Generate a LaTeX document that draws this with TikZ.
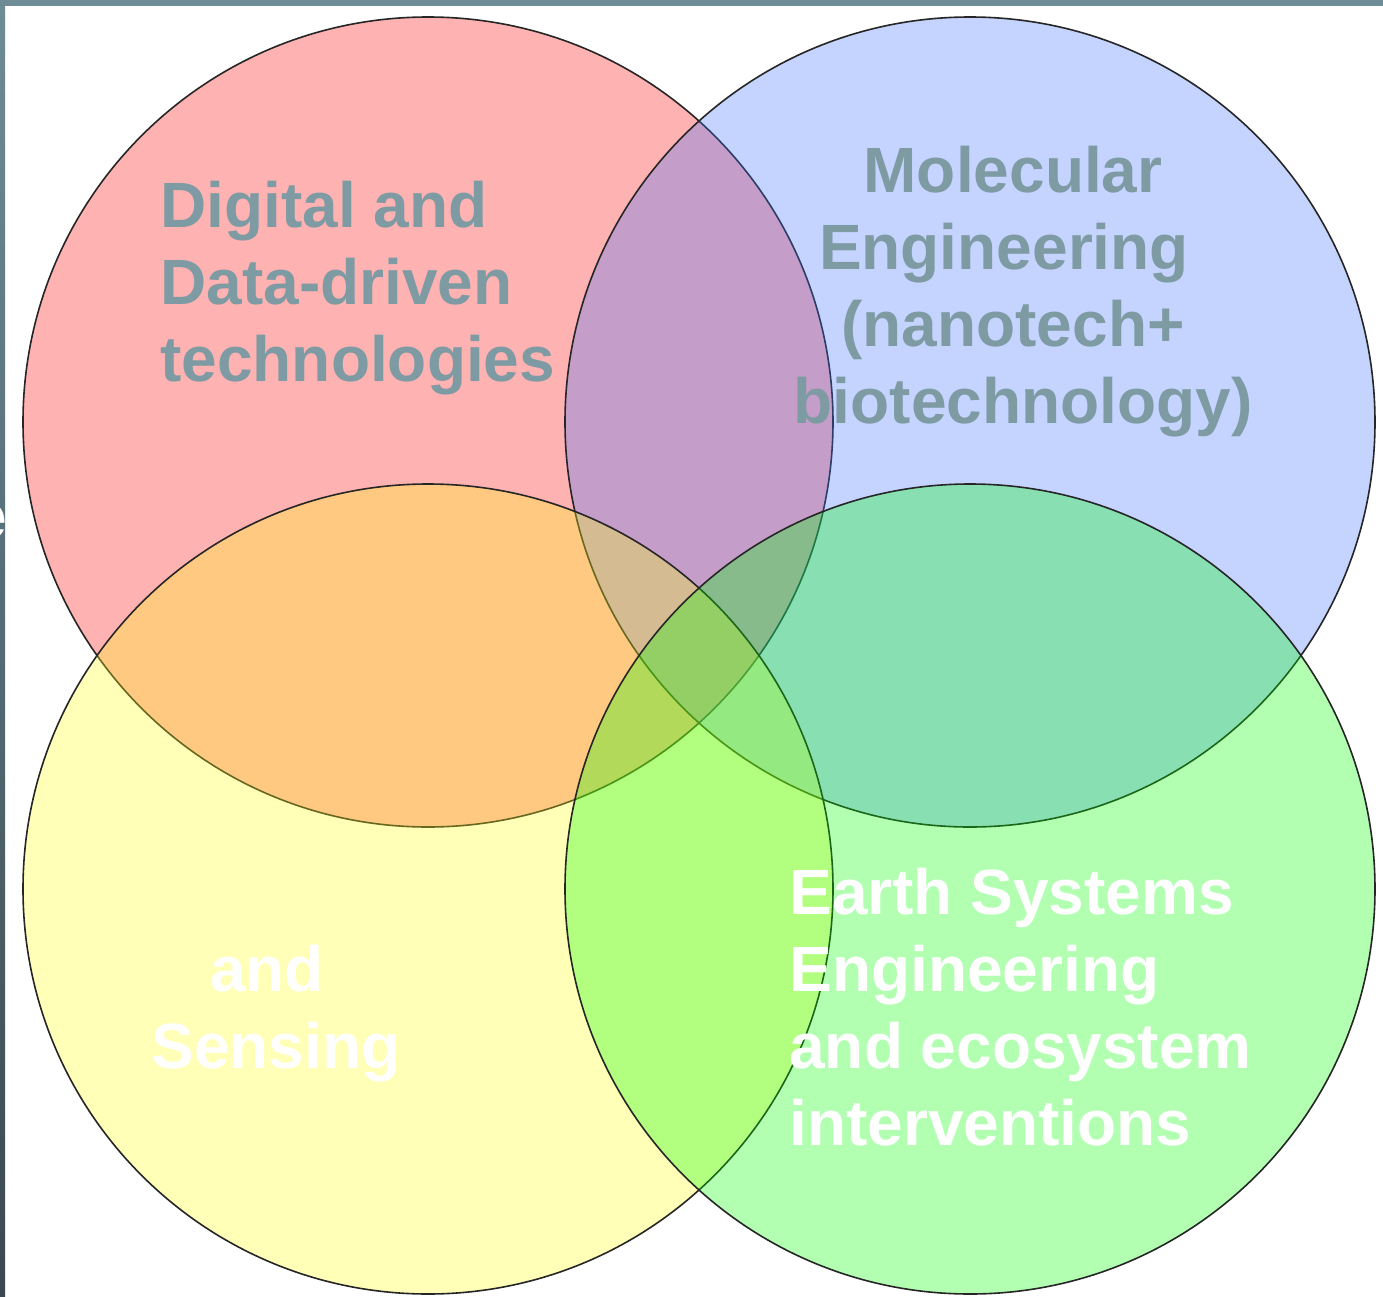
\documentclass[tikz,border=0pt]{standalone}
\usepackage{fontspec}
\setmainfont{Liberation Sans}
\usepackage{tikz}
\usetikzlibrary{positioning}
\definecolor{framegray}{RGB}{110,140,150}
\definecolor{framedark}{RGB}{58,72,82}
\definecolor{labelgray}{RGB}{126,155,164}
\definecolor{vred}{RGB}{255,0,0}
\definecolor{vblue}{RGB}{60,115,255}
\definecolor{vyellow}{RGB}{255,255,20}
\definecolor{vgreen}{RGB}{0,255,0}
\tikzset{
    venn/.style={circle, draw=black!85, line width=0.8pt, fill opacity=0.3, minimum size=405pt, inner sep=0pt, outer sep=0pt},
    vennlbl/.style={font=\fontsize{32}{38.5}\selectfont\bfseries, inner sep=0pt},
}

\begin{document}
\begin{tikzpicture}[x=0.5pt, y=-0.5pt]

% page and frame
\fill[white] (0,0) rectangle (1383,1297);
\fill[framegray] (0,0) rectangle (1383,6);
\shade[top color=framegray, bottom color=framedark] (0,6) rectangle (5,1297);
\useasboundingbox (0,0) rectangle (1383,1297);

% the four sets
\node[venn, fill=vred] (digital) at (428,422) {};
\node[venn, fill=vblue] (molecular) at (970,422) {};
\node[venn, fill=vyellow] (sensing) at (428,889) {};
\node[venn, fill=vgreen] (earth) at (970,889) {};

% labels (placed by the baseline of their last line)
\node[vennlbl, text=labelgray, align=left, anchor=base west] (digitallbl) at (160,381)
    {Digital and\\Data-driven\\technologies};
\node[vennlbl, text=labelgray, align=center, anchor=base] (molecularlbl) at (1023,423)
    {Molecular\kern10pt\\Engineering\kern19pt\\(nanotech+\kern10pt\\biotechnology)};
\node[vennlbl, text=white, align=center, anchor=base] (sensinglbl) at (276,1068)
    {and\kern9pt\\Sensing};
\node[vennlbl, text=white, align=left, anchor=base west] (earthlbl) at (789,1145)
    {Earth Systems\\Engineering\\and ecosystem\\interventions};
\node[vennlbl, text=white, anchor=base east] (edgelbl) at (7,538) {e};

\end{tikzpicture}
\end{document}
